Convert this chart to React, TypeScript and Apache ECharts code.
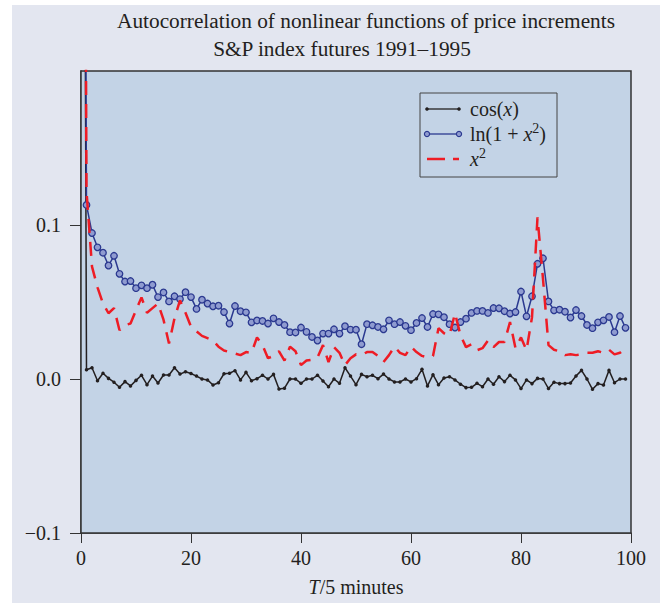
import React, { useEffect, useRef } from "react";
import * as echarts from "echarts";

const lags: number[] = Array.from({ length: 100 }, (_, i) => i);

const cosVals: number[] = [
  1.0, 0.006, 0.0073, -0.0011, 0.0037, 0.0004, -0.0021, -0.0054, -0.0017, -0.0045, -0.0009,
  0.0024, -0.0037, 0.0019, -0.0026, 0.0026, 0.0026, 0.0073, 0.0032, 0.0047, 0.0036,
  0.0019, 0.0, -0.0006, -0.0039, -0.0024, 0.0034, 0.0037, 0.0054, -0.0006, 0.0043,
  -0.0011, 0.0002, 0.0024, 0.0, 0.003, -0.0065, -0.006, 0.0, 0.0, -0.0028,
  0.0, 0.0, 0.0024, -0.0013, -0.005, 0.0, -0.0028, 0.0073, 0.0019, -0.0037,
  0.003, 0.0015, 0.0024, 0.0002, 0.0032, 0.0, -0.0019, -0.0019, 0.0, -0.0019,
  0.0002, 0.0063, -0.0045, 0.0028, -0.0037, 0.0006, 0.0015, -0.0006, -0.0034, -0.0056,
  -0.0054, -0.0028, -0.005, 0.0, -0.0034, 0.0015, -0.0017, 0.0024, -0.0006, -0.0062,
  -0.0006, -0.003, 0.0004, 0.0, -0.0062, -0.0021, -0.003, -0.003, -0.0026, 0.0019,
  0.0056, 0.0, -0.0067, -0.003, -0.0039, 0.0056, -0.0024, 0.0, 0.0,
];

const lnVals: number[] = [
  1.0, 0.113, 0.0948, 0.0855, 0.082, 0.0737, 0.08, 0.0683, 0.0633, 0.0636, 0.059,
  0.0608, 0.059, 0.0612, 0.0532, 0.0562, 0.0504, 0.0537, 0.0519, 0.0564, 0.0532,
  0.0455, 0.0515, 0.049, 0.0472, 0.0476, 0.0435, 0.036, 0.0474, 0.044, 0.0433,
  0.0368, 0.038, 0.0377, 0.036, 0.0394, 0.037, 0.0351, 0.0304, 0.0302, 0.0334,
  0.0306, 0.0273, 0.025, 0.0295, 0.0295, 0.0323, 0.0295, 0.0343, 0.0321, 0.032,
  0.0226, 0.0356, 0.0349, 0.0338, 0.0323, 0.0381, 0.0356, 0.037, 0.0345, 0.0317,
  0.0364, 0.0396, 0.0338, 0.0422, 0.042, 0.0401, 0.0356, 0.0334, 0.037, 0.0392,
  0.0429, 0.0442, 0.0442, 0.0429, 0.0461, 0.0459, 0.044, 0.0425, 0.0435, 0.0568,
  0.0407, 0.0537, 0.0748, 0.0784, 0.0504, 0.0446, 0.045, 0.0437, 0.0399, 0.0448,
  0.0409, 0.0351, 0.033, 0.0368, 0.0381, 0.0403, 0.0304, 0.0409, 0.0332,
];

const sqVals: number[] = [
  1.0, 0.122, 0.073, 0.0595, 0.049, 0.0427, 0.046, 0.0317, 0.035, 0.036, 0.0446,
  0.053, 0.043, 0.046, 0.049, 0.0385, 0.023, 0.0394, 0.051, 0.043, 0.034,
  0.031, 0.028, 0.0265, 0.025, 0.021, 0.0185, 0.0175, 0.0165, 0.0155, 0.0175,
  0.017, 0.027, 0.022, 0.0135, 0.015, 0.018, 0.012, 0.021, 0.018, 0.009,
  0.012, 0.0125, 0.014, 0.022, 0.011, 0.0207, 0.017, 0.009, 0.0135, 0.016,
  0.0155, 0.0175, 0.0175, 0.015, 0.011, 0.0155, 0.021, 0.017, 0.0155, 0.021,
  0.0175, 0.015, 0.014, 0.015, 0.033, 0.0297, 0.0284, 0.0427, 0.0284, 0.0207,
  0.0225, 0.0187, 0.02, 0.025, 0.0207, 0.024, 0.024, 0.037, 0.02, 0.027,
  0.0187, 0.04, 0.105, 0.065, 0.022, 0.019, 0.018, 0.0155, 0.016, 0.0155,
  0.016, 0.017, 0.017, 0.018, 0.017, 0.019, 0.016, 0.017, 0.02,
];

const xTicks = [0, 20, 40, 60, 80, 100];
const yTicks = [-0.1, 0, 0.1];

const titleLine1 = "Autocorrelation of nonlinear functions of price increments";
const titleLine2 = "S&P index futures 1991\u20131995";

const SERIF = "'Liberation Serif', 'DejaVu Serif', serif";
const INK = "#231f20";
const BLUE = "#2b3990";
const RED = "#ee1c25";
const MARKER_FILL = "#8f9bd0";

export default function App() {
  const ref = useRef<HTMLDivElement>(null);

  useEffect(() => {
    if (!ref.current) return;
    const chart = echarts.init(ref.current, undefined, { renderer: "svg" });

    const pairs = (vals: number[]) => lags.map((x, i) => [x, vals[i]]);
    const fmt = (v: number) =>
      v < 0 ? "\u2212" + Math.abs(v).toFixed(1) : v.toFixed(1);

    const legendX = 420;
    const legendY = 93;
    const rowY = [109, 134, 159];
    const legendFont = 20;
    const supStyle = { fontFamily: SERIF, fontSize: 14, fill: INK, padding: [0, 0, 12, 0] };
    const itStyle = { fontStyle: "italic", fontFamily: SERIF, fontSize: legendFont, fill: INK };

    chart.setOption({
      animation: false,
      backgroundColor: "#ffffff",
      grid: {
        left: 81,
        top: 71,
        width: 550,
        height: 462,
        show: true,
        backgroundColor: "#c3d3e6",
        borderColor: "#333333",
        borderWidth: 1.5,
        z: 1,
      },
      xAxis: {
        type: "value",
        min: 0,
        max: 100,
        interval: 20,
        axisLine: { show: true, onZero: false, lineStyle: { color: "#333333", width: 1.5 } },
        axisTick: { show: true, inside: false, length: 10, lineStyle: { color: "#333333", width: 1 }, customValues: xTicks },
        axisLabel: { fontFamily: SERIF, fontSize: 20, color: INK, margin: 15, customValues: xTicks },
        splitLine: { show: false },
        name: "{i|T}/5 minutes",
        nameLocation: "middle",
        nameGap: 44,
        nameTextStyle: {
          fontFamily: SERIF,
          fontSize: 20,
          color: INK,
          rich: { i: { fontStyle: "italic", fontFamily: SERIF, fontSize: 20, color: INK } },
        },
      },
      yAxis: {
        type: "value",
        min: -0.1,
        max: 0.2,
        interval: 0.1,
        axisLine: { show: true, onZero: false, lineStyle: { color: "#333333", width: 1.5 } },
        axisTick: { show: true, inside: false, length: 11, lineStyle: { color: "#333333", width: 1 }, customValues: yTicks },
        axisLabel: {
          fontFamily: SERIF,
          fontSize: 20,
          color: INK,
          margin: 20,
          customValues: yTicks,
          formatter: (v: number) => fmt(v),
        },
        splitLine: { show: false },
      },
      series: [
        {
          name: "cos(x)",
          type: "line",
          data: pairs(cosVals),
          symbol: "circle",
          symbolSize: 3.5,
          showAllSymbol: true,
          itemStyle: { color: INK },
          lineStyle: { color: INK, width: 1.5 },
          z: 3,
        },
        {
          name: "ln(1 + x^2)",
          type: "line",
          data: pairs(lnVals),
          symbol: "circle",
          symbolSize: 6.5,
          showAllSymbol: true,
          itemStyle: { color: MARKER_FILL, borderColor: BLUE, borderWidth: 1.3 },
          lineStyle: { color: BLUE, width: 1.5 },
          z: 4,
        },
        {
          name: "x^2",
          type: "line",
          data: pairs(sqVals),
          symbol: "none",
          lineStyle: { color: RED, width: 2.5, type: [14, 9] },
          z: 5,
        },
      ],
      graphic: [
        {
          type: "rect",
          shape: { x: 12, y: 5, width: 648, height: 598 },
          style: { fill: "#e3e6f0" },
          z: -10,
          silent: true,
        },
        {
          type: "text",
          x: 366,
          y: 21,
          style: { text: titleLine1, fontFamily: SERIF, fontSize: 21.3, fill: INK, align: "center", verticalAlign: "middle" },
        },
        {
          type: "text",
          x: 342,
          y: 49,
          style: { text: titleLine2, fontFamily: SERIF, fontSize: 21.3, fill: INK, align: "center", verticalAlign: "middle" },
        },
        {
          type: "rect",
          shape: { x: legendX, y: legendY, width: 137, height: 84 },
          style: { fill: "none", stroke: "#444444", lineWidth: 1 },
          z: 10,
        },
        // cos(x) row
        { type: "line", shape: { x1: 427, y1: rowY[0], x2: 459, y2: rowY[0] }, style: { stroke: INK, lineWidth: 1.3 }, z: 10 },
        { type: "circle", shape: { cx: 427, cy: rowY[0], r: 1.8 }, style: { fill: INK }, z: 10 },
        { type: "circle", shape: { cx: 459, cy: rowY[0], r: 1.8 }, style: { fill: INK }, z: 10 },
        {
          type: "text",
          x: 470,
          y: rowY[0],
          style: {
            text: "cos({i|x})",
            fontFamily: SERIF,
            fontSize: legendFont,
            fill: INK,
            verticalAlign: "middle",
            rich: { i: itStyle },
          },
          z: 10,
        },
        // ln row
        { type: "line", shape: { x1: 427, y1: rowY[1], x2: 459, y2: rowY[1] }, style: { stroke: BLUE, lineWidth: 1.3 }, z: 10 },
        { type: "circle", shape: { cx: 427, cy: rowY[1], r: 2.6 }, style: { fill: MARKER_FILL, stroke: BLUE, lineWidth: 1.2 }, z: 10 },
        { type: "circle", shape: { cx: 459, cy: rowY[1], r: 2.6 }, style: { fill: MARKER_FILL, stroke: BLUE, lineWidth: 1.2 }, z: 10 },
        {
          type: "text",
          x: 470,
          y: rowY[1],
          style: {
            text: "ln(1 + {i|x}{s|2})",
            fontFamily: SERIF,
            fontSize: legendFont,
            fill: INK,
            verticalAlign: "middle",
            rich: { i: itStyle, s: supStyle },
          },
          z: 10,
        },
        // x^2 row
        { type: "line", shape: { x1: 427, y1: rowY[2], x2: 445, y2: rowY[2] }, style: { stroke: RED, lineWidth: 2.5 }, z: 10 },
        { type: "line", shape: { x1: 453, y1: rowY[2], x2: 459, y2: rowY[2] }, style: { stroke: RED, lineWidth: 2.5 }, z: 10 },
        {
          type: "text",
          x: 470,
          y: rowY[2],
          style: {
            text: "{i|x}{s|2}",
            fontFamily: SERIF,
            fontSize: legendFont,
            fill: INK,
            verticalAlign: "middle",
            rich: { i: itStyle, s: supStyle },
          },
          z: 10,
        },
      ],
    });

    return () => chart.dispose();
  }, []);

  return (
    <div
      ref={ref}
      style={{ position: "fixed", left: 0, top: 0, width: 667, height: 607 }}
    />
  );
}
